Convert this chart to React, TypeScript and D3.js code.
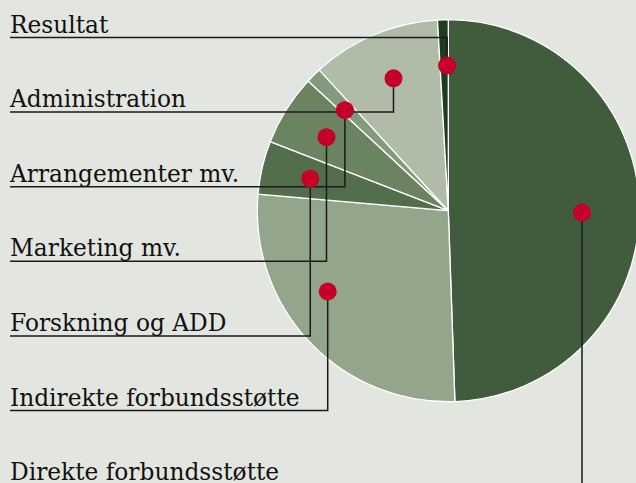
import React, { useEffect, useRef } from 'react';
import * as d3 from 'd3';

// pie order (clockwise from 12 o'clock)
const categories = [
  'Direkte forbundsstøtte',
  'Indirekte forbundsstøtte',
  'Forskning og ADD',
  'Marketing mv.',
  'Arrangementer mv.',
  'Administration',
  'Resultat',
];
const shares = [49.4, 26.9, 4.5, 6.0, 1.3, 10.9, 0.9];
const sliceColors = ['#405c3d', '#93a68c', '#526e4c', '#6a8462', '#849a7c', '#b0bca8', '#1f3b20'];
// where the red marker sits: fraction along the slice, fraction of the radius
const markerAngleT = [0.51, 0.6, 0.5, 0.46, 0.3, 0.51, 0.85];
const markerRadiusT = [0.7, 0.76, 0.742, 0.745, 0.755, 0.75, 0.76];

const W = 636;
const H = 483;

function PieChart() {
  const svgRef = useRef<SVGSVGElement>(null);

  useEffect(() => {
    const svg = d3.select(svgRef.current);
    svg.selectAll('*').remove();

    const cx = 448.3;
    const cy = 210.7;
    const radius = 191;

    svg.append('rect').attr('width', W).attr('height', H).attr('fill', '#e3e6e0');

    const data = categories.map((name, i) => ({ name, value: shares[i], i }));
    const arcs = d3.pie<any>().sort(null).value(d => d.value)(data);
    const arc = d3.arc<any>().innerRadius(0).outerRadius(radius);

    const g = svg.append('g').attr('transform', `translate(${cx},${cy})`);
    g.selectAll('path')
      .data(arcs)
      .join('path')
      .attr('d', arc)
      .attr('fill', d => sliceColors[d.data.i])
      .attr('stroke', '#ffffff')
      .attr('stroke-width', 1.3)
      .attr('stroke-linejoin', 'round');

    // labels stacked top-down in reverse pie order
    const rowY = d3.scaleLinear().domain([0, 1]).range([37.5, 37.5 + 74.6]);
    const n = categories.length;

    const markers = arcs.map(a => {
      const i = a.data.i;
      const ang = a.startAngle + (a.endAngle - a.startAngle) * markerAngleT[i];
      const r = radius * markerRadiusT[i];
      return {
        i,
        x: cx + r * Math.sin(ang),
        y: cy - r * Math.cos(ang),
        uy: rowY(n - 1 - i),
      };
    });

    svg.append('g')
      .selectAll('path')
      .data(markers)
      .join('path')
      .attr('d', m => `M10,${m.uy}H${m.x}V${m.y}`)
      .attr('fill', 'none')
      .attr('stroke', '#1a1a1a')
      .attr('stroke-width', 1.5);

    svg.append('g')
      .selectAll('circle')
      .data(markers)
      .join('circle')
      .attr('cx', m => m.x)
      .attr('cy', m => m.y)
      .attr('r', 9)
      .attr('fill', '#c4002b');

    svg.append('g')
      .selectAll('text')
      .data(markers)
      .join('text')
      .attr('x', 10)
      .attr('y', m => m.uy - 5)
      .attr('font-family', '"DejaVu Serif", serif')
      .attr('font-size', 23.3)
      .attr('fill', '#111')
      .text(m => categories[m.i]);
  }, []);

  return <svg ref={svgRef} width={W} height={H} style={{ position: 'absolute', left: 0, top: 0, display: 'block' }} />;
}

export default function App() {
  return <PieChart />;
}
